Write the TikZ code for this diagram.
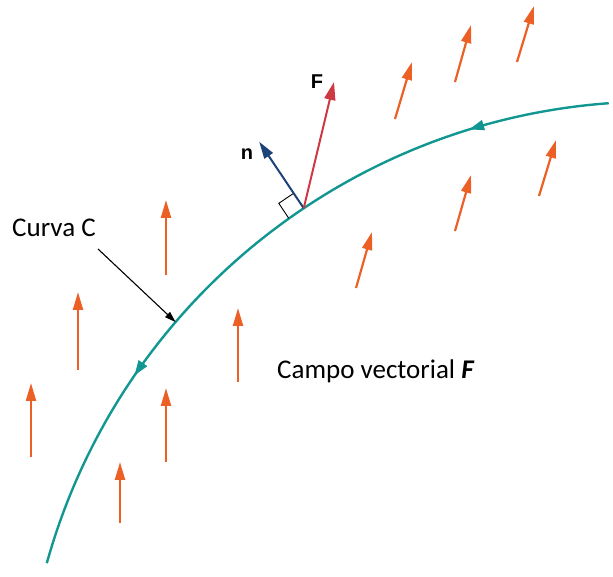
\documentclass[tikz,border=0pt]{standalone}
\usepackage{fontspec}
\setmainfont{Carlito}
\newfontfamily\vecfont{Liberation Sans}
\usetikzlibrary{arrows.meta,decorations.markings}

\definecolor{fieldorange}{RGB}{236,96,38}
\definecolor{curveteal}{RGB}{18,150,145}
\definecolor{forcered}{RGB}{206,56,66}
\definecolor{normalblue}{RGB}{28,66,122}

\begin{document}
\begin{tikzpicture}[x=1pt,y=1pt,
  field/.style={fieldorange, line width=2.2pt, -{Triangle[length=18pt,width=10pt]}},
  curve/.style={curveteal, line width=2.4pt, postaction={decorate},
    decoration={markings,
      mark=at position 0.184 with {\arrow{Triangle[length=15pt,width=10pt]}},
      mark=at position 0.731 with {\arrow{Triangle[length=15pt,width=10pt]}}}},
  caption/.style={anchor=base west, inner sep=0pt, font=\fontsize{27}{31}\selectfont},
  veclabel/.style={inner sep=0pt, font=\vecfont\bfseries\fontsize{20}{22}\selectfont}
]
\useasboundingbox (0,0) rectangle (613,577);

% the curve C, an arc round O
\coordinate (O) at (655,-156);
\draw[curve] ([shift={(94.2:631.5pt)}]O) arc[start angle=94.2, end angle=164.4, radius=631.5pt];

% vector field F
\draw[field] (166,302) -- (166,377);
\draw[field] (78,207) -- (78,285);
\draw[field] (31,120) -- (31,194);
\draw[field] (166,115) -- (166,189);
\draw[field] (120,54) -- (120,115);
\draw[field] (238,195) -- (238,269);
\draw[field] (356,289) -- (372,345);
\draw[field] (395,458) -- (412,515);
\draw[field] (455,495) -- (471,552);
\draw[field] (517,515) -- (534,571);
\draw[field] (455,346) -- (471,402);
\draw[field] (539,381) -- (556,437);

% F and n at a point of C
\coordinate (base) at ([shift={(123.8:631.5pt)}]O);
\coordinate (ntip) at ([shift={(123.8:711.5pt)}]O);
\coordinate (ftip) at (334,495);
\draw[black, line width=0.9pt, shift={(base)}, rotate=123.8] (18,0) -- (18,18) -- (0,18);
\draw[normalblue, line width=2pt, -{Triangle[length=17pt,width=10pt]}] (base) -- (ntip);
\draw[forcered, line width=2pt, -{Triangle[length=18pt,width=11pt]}] (base) -- (ftip);
\node[veclabel] (nlabel) at (247,423) {n};
\node[veclabel] (flabel) at (317,495) {F};

% labels
\node[caption] (curva) at (12,340) {Curva C};
\node[caption] (campo) at (277,198) {Campo vectorial \textbf{\textit{F}}};
\coordinate (ctail) at (98,328);
\coordinate (cpoint) at ([shift={(139.4:631.5pt)}]O);
\draw[black, line width=1.1pt, -{Triangle[length=11pt,width=7pt]}] (ctail) -- (cpoint);
\end{tikzpicture}
\end{document}
